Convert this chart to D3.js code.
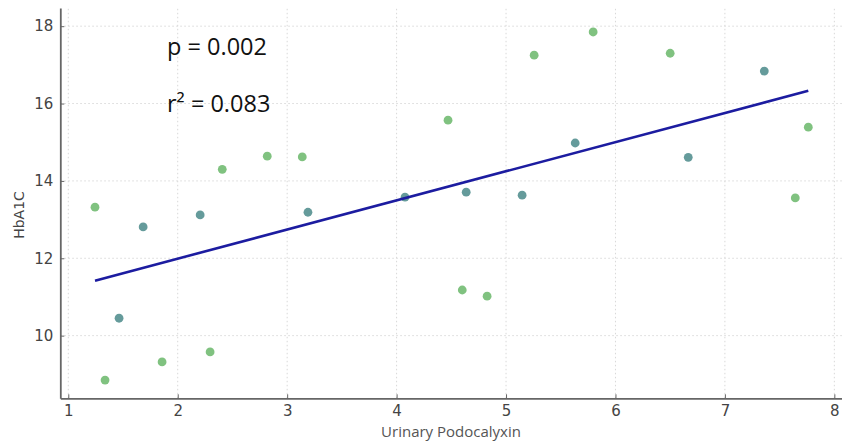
<!DOCTYPE html>
<html><head><meta charset="utf-8">
<script src="https://cdn.jsdelivr.net/npm/d3@7"></script>
<style>body{margin:0;background:#fff}svg{display:block}</style>
</head><body>
<svg id="c" width="842" height="443"></svg>
<script>
const xTicks = [1,2,3,4,5,6,7,8];
const yTicks = [10,12,14,16,18];
const greenX = [1.244,1.336,1.857,2.296,2.407,2.818,3.138,4.47,4.60,4.827,5.257,5.796,6.50,7.643,7.762];
const greenY = [13.32,8.85,9.32,9.58,14.30,14.64,14.62,15.57,11.18,11.02,17.25,17.85,17.30,13.56,15.39];
const tealX = [1.464,1.684,2.205,3.19,4.077,4.636,5.147,5.632,6.665,7.36];
const tealY = [10.45,12.81,13.12,13.19,13.58,13.71,13.63,14.98,14.61,16.84];
const fitX = [1.244,7.762];
const fitY = [11.42,16.33];
const annot = ["p = 0.002","r² = 0.083"];

const svg = d3.select("#c");
const x = d3.scaleLinear().domain([0.927,8.07]).range([60.3,842]);
const y = d3.scaleLinear().domain([8.38,18.47]).range([398.3,8]);

// grid
const g = svg.append("g");
g.selectAll(".vg").data(xTicks).join("line")
  .attr("x1",d=>x(d)).attr("x2",d=>x(d)).attr("y1",y.range()[0]).attr("y2",y.range()[1])
  .attr("stroke","#d8d8d8").attr("stroke-width",1).attr("stroke-dasharray","1.5,2.5");
g.selectAll(".hg").data(yTicks).join("line")
  .attr("x1",x.range()[0]).attr("x2",x.range()[1]).attr("y1",d=>y(d)).attr("y2",d=>y(d))
  .attr("stroke","#d8d8d8").attr("stroke-width",1).attr("stroke-dasharray","1.5,2.5");

// axes
const xa = svg.append("g").attr("transform",`translate(0,${y.range()[0]})`)
  .call(d3.axisBottom(x).tickValues(xTicks).tickFormat(d3.format("d")).tickSizeInner(-4).tickSizeOuter(0).tickPadding(7));
const ya = svg.append("g").attr("transform",`translate(${x.range()[0]},0)`)
  .call(d3.axisLeft(y).tickValues(yTicks).tickFormat(d3.format("d")).tickSizeInner(-4).tickSizeOuter(0).tickPadding(7));
[xa,ya].forEach(a=>{
  a.select(".domain").attr("stroke","#666").attr("stroke-width",1.8);
  a.selectAll(".tick line").attr("stroke","#666").attr("stroke-width",1);
  a.selectAll("text").attr("fill","#444").style("font-family","DejaVu Sans").style("font-size","15px");
});

// points
svg.append("g").selectAll("circle").data(greenX.map((d,i)=>[d,greenY[i]])).join("circle")
  .attr("cx",d=>x(d[0])).attr("cy",d=>y(d[1])).attr("r",4.4).attr("fill","#80c280");
svg.append("g").selectAll("circle").data(tealX.map((d,i)=>[d,tealY[i]])).join("circle")
  .attr("cx",d=>x(d[0])).attr("cy",d=>y(d[1])).attr("r",4.4).attr("fill","#659b9b");

// fit line
svg.append("path").datum(fitX.map((d,i)=>[d,fitY[i]]))
  .attr("d",d3.line().x(d=>x(d[0])).y(d=>y(d[1])))
  .attr("stroke","#1c1ca0").attr("stroke-width",2.6).attr("fill","none");

// annotations
svg.append("text").attr("x",167).attr("y",55).text(annot[0])
  .style("font-family","Open Sans").style("font-size","23.5px").attr("fill","#111");
svg.append("text").attr("x",167).attr("y",112).text(annot[1])
  .style("font-family","Open Sans").style("font-size","23.5px").attr("fill","#111");

// labels
svg.append("text").attr("x",451).attr("y",437).attr("text-anchor","middle")
  .text("Urinary Podocalyxin").style("font-family","Open Sans").style("font-size","15px").attr("fill","#555");
svg.append("text").attr("transform","translate(24,215) rotate(-90)").attr("text-anchor","middle")
  .text("HbA1C").style("font-family","DejaVu Sans").style("font-size","14px").attr("fill","#444");
</script>
</body></html>
